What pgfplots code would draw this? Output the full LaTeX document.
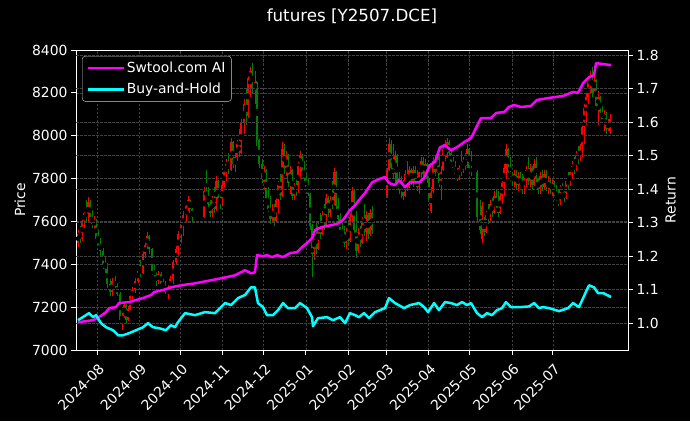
\documentclass[border=0pt]{standalone}
\usepackage{fontspec}
\setmainfont{DejaVu Sans}
\usepackage{pgfplots}
\usepackage{pgfplotstable}
\pgfplotsset{compat=1.18}

\definecolor{upred}{RGB}{255,0,0}
\definecolor{dngreen}{RGB}{0,128,0}
\definecolor{gridc}{RGB}{64,64,64}
\definecolor{lnmag}{RGB}{255,0,255}
\definecolor{lncyan}{RGB}{0,255,255}

% x = days since 2024-08-01
% candles: d open high low close
\pgfplotstableread{
d o h l c
-13.9 7500 7560 7480 7540
-12.5 7540 7580 7500 7520
-11.0 7520 7620 7510 7600
-9.5 7600 7660 7570 7640
-8.1 7640 7700 7600 7620
-6.6 7620 7715 7600 7690
-5.1 7690 7700 7600 7620
-3.7 7620 7655 7570 7590
-2.2 7590 7625 7555 7600
-0.7 7600 7610 7500 7520
0.7 7520 7565 7480 7495
2.2 7495 7525 7440 7460
4.4 7460 7475 7380 7400
5.9 7400 7435 7360 7380
7.3 7380 7405 7290 7310
9.5 7310 7330 7250 7270
11.0 7270 7335 7250 7320
13.2 7320 7345 7280 7300
14.6 7300 7315 7250 7260
16.8 7260 7270 7120 7140
18.3 7140 7175 7095 7160
19.8 7160 7225 7150 7210
21.2 7210 7215 7120 7140
22.7 7140 7205 7135 7190
24.2 7190 7265 7185 7250
25.6 7250 7295 7230 7280
27.8 7280 7335 7265 7320
30.0 7320 7385 7315 7370
31.5 7370 7420 7340 7360
33.7 7360 7465 7355 7450
35.2 7450 7505 7430 7490
36.6 7490 7550 7470 7530
38.0 7530 7535 7450 7470
40.3 7470 7475 7350 7370
41.8 7370 7395 7330 7350
43.2 7350 7365 7300 7320
44.7 7320 7370 7310 7355
46.9 7355 7365 7300 7310
48.3 7310 7335 7280 7300
49.8 7300 7320 7260 7270
52.0 7270 7305 7240 7290
53.5 7290 7345 7280 7330
55.7 7330 7420 7310 7410
57.9 7410 7485 7400 7470
59.3 7470 7555 7440 7540
61.5 7540 7600 7500 7580
63.0 7580 7650 7530 7630
65.2 7630 7685 7600 7670
66.6 7670 7720 7650 7700
68.0 7700 7705 7640 7660
69.6 7660 7665 7600 7620
78.4 7620 7760 7615 7740
79.8 7740 7840 7700 7720
81.3 7720 7760 7660 7680
82.8 7680 7700 7620 7640
84.2 7640 7720 7620 7700
85.7 7700 7760 7640 7660
87.2 7660 7810 7650 7790
88.6 7790 7795 7680 7700
90.0 7700 7740 7660 7680
91.6 7680 7790 7675 7770
93.0 7770 7850 7760 7830
94.5 7830 7890 7790 7870
96.0 7870 7920 7820 7840
98.2 7840 7990 7835 7970
99.6 7970 7975 7850 7870
101.0 7870 7920 7830 7900
102.5 7900 7980 7880 7960
104.0 7960 8030 7900 7920
105.5 7920 8080 7915 8060
107.7 8060 8170 8010 8150
109.2 8150 8220 8050 8090
110.6 8090 8290 8085 8270
112.0 8270 8320 8180 8300
113.5 8300 8340 8200 8220
115.7 8220 8300 8150 8250
117.0 8250 8255 7950 7980
118.7 7980 7985 7850 7870
120.9 7870 7890 7780 7800
122.3 7800 7860 7750 7840
123.8 7840 7845 7690 7710
125.2 7710 7760 7640 7660
126.7 7660 7720 7590 7610
128.2 7610 7680 7600 7660
129.7 7660 7680 7580 7600
131.1 7600 7720 7595 7700
132.6 7700 7790 7640 7770
134.0 7770 7850 7700 7720
135.5 7720 7970 7715 7940
137.0 7940 7960 7820 7850
138.5 7850 7930 7810 7910
139.9 7910 7915 7760 7780
141.4 7780 7860 7730 7840
142.8 7840 7845 7700 7720
144.3 7720 7780 7700 7760
145.8 7760 7800 7720 7740
147.3 7740 7880 7735 7860
148.7 7860 7930 7800 7910
150.2 7910 7915 7810 7830
151.6 7830 7880 7780 7800
153.1 7800 7820 7740 7760
154.6 7760 7800 7720 7730
156.0 7730 7735 7560 7580
157.5 7580 7590 7340 7450
159.0 7450 7560 7420 7540
160.4 7540 7600 7450 7470
161.9 7470 7600 7465 7580
163.4 7580 7640 7520 7540
164.8 7540 7650 7535 7630
166.3 7630 7680 7560 7580
167.7 7580 7730 7575 7710
169.2 7710 7720 7620 7640
170.7 7640 7730 7620 7700
172.2 7700 7790 7660 7680
173.6 7680 7850 7675 7830
175.1 7830 7835 7650 7670
176.5 7670 7710 7590 7610
178.0 7610 7640 7540 7560
179.5 7560 7600 7510 7530
181.0 7530 7580 7480 7500
182.4 7500 7570 7470 7550
183.9 7550 7600 7490 7510
185.3 7510 7640 7505 7620
186.8 7620 7760 7600 7740
188.2 7740 7745 7530 7560
189.7 7560 7650 7430 7460
191.2 7460 7570 7455 7550
192.7 7550 7580 7480 7500
194.1 7500 7620 7495 7600
195.6 7600 7680 7530 7550
197.0 7550 7650 7510 7630
198.5 7630 7640 7520 7540
200.0 7540 7660 7530 7640
201.5 7640 7670 7540 7560
212.5 7720 7850 7710 7840
213.9 7840 7990 7835 7960
215.4 7960 7980 7830 7850
216.8 7850 7960 7800 7820
218.3 7820 7930 7780 7910
219.8 7910 7915 7760 7780
221.2 7780 7830 7730 7750
222.7 7750 7810 7710 7790
224.2 7790 7795 7700 7720
225.6 7720 7840 7715 7820
227.1 7820 7880 7740 7760
228.6 7760 7860 7755 7840
230.0 7840 7850 7770 7790
231.5 7790 7860 7760 7840
233.0 7840 7860 7770 7790
234.4 7790 7840 7740 7760
235.9 7760 7850 7730 7830
237.4 7830 7900 7780 7880
238.8 7880 7900 7800 7820
240.3 7820 7890 7810 7870
241.8 7870 7875 7780 7800
243.2 7800 7805 7680 7700
244.7 7650 7760 7640 7740
246.2 7740 7900 7735 7880
247.6 7880 7910 7810 7830
249.1 7830 7930 7825 7910
250.5 7910 7915 7760 7780
252.0 7780 7860 7700 7840
253.5 7840 7960 7835 7940
254.9 7940 7980 7880 7900
256.4 7900 7990 7895 7970
257.9 7970 7980 7900 7920
259.3 7920 7930 7870 7880
260.8 7880 7900 7840 7850
262.3 7850 7880 7810 7820
263.7 7820 7850 7790 7800
265.2 7800 7870 7795 7850
266.7 7850 7930 7810 7830
268.1 7830 7900 7825 7880
269.6 7880 7920 7840 7860
271.0 7860 7960 7850 7940
272.5 7940 7945 7830 7850
274.0 7850 7930 7810 7830
278.5 7830 7840 7600 7620
280.6 7620 7700 7540 7560
282.1 7520 7690 7500 7670
283.5 7600 7620 7530 7550
285.0 7550 7650 7545 7630
286.4 7630 7680 7590 7610
287.9 7610 7700 7600 7680
289.4 7680 7710 7620 7640
290.8 7640 7740 7635 7720
292.3 7720 7750 7650 7670
293.8 7670 7740 7620 7640
295.2 7640 7740 7635 7720
296.7 7720 7800 7680 7780
298.2 7780 7870 7720 7850
299.6 7850 7960 7800 7940
301.1 7940 7945 7810 7830
302.6 7830 7900 7790 7810
304.0 7810 7830 7770 7790
305.5 7790 7840 7760 7820
307.0 7820 7840 7750 7770
308.4 7770 7830 7740 7810
309.9 7810 7830 7750 7770
311.4 7770 7820 7730 7750
312.8 7750 7830 7730 7810
314.3 7810 7860 7760 7840
315.8 7840 7900 7770 7790
317.2 7790 7870 7760 7850
318.7 7850 7860 7750 7770
320.2 7770 7890 7765 7870
321.6 7870 7900 7780 7800
323.1 7800 7805 7730 7750
324.5 7750 7830 7730 7810
326.0 7810 7840 7740 7760
327.5 7760 7840 7750 7820
328.9 7820 7840 7740 7760
330.4 7760 7810 7730 7790
331.9 7790 7800 7730 7750
333.3 7750 7800 7720 7780
334.8 7780 7790 7700 7720
336.3 7720 7770 7690 7700
337.7 7700 7750 7670 7680
339.2 7680 7770 7675 7750
340.7 7750 7780 7730 7740
342.1 7740 7750 7690 7710
343.6 7710 7800 7705 7790
345.1 7790 7830 7750 7770
346.5 7770 7850 7765 7830
348.0 7830 7880 7800 7860
349.5 7860 7900 7820 7840
350.9 7840 7930 7835 7910
352.4 7910 7950 7870 7890
353.8 7890 7960 7880 7950
355.3 7950 8060 7900 8040
356.8 8040 8150 7960 8130
358.2 8130 8200 8050 8180
359.7 8180 8270 8150 8250
361.2 8250 8300 8200 8280
362.6 8280 8320 8180 8200
364.1 8200 8290 8195 8260
365.6 8260 8265 8120 8140
367.0 8140 8210 8050 8180
368.5 8180 8185 8090 8110
370.0 8110 8140 8060 8080
371.4 8080 8120 8020 8100
372.9 8100 8110 8010 8030
374.4 8030 8080 8020 8060
375.8 8020 8100 8010 8080
}\candles

\pgfplotstableread{
d r
-13.9 1.003
-2.9 1.009
1.5 1.018
6.6 1.033
8.8 1.045
13.9 1.048
16.1 1.060
23.4 1.063
33.7 1.075
39.6 1.084
41.8 1.093
48.4 1.099
54.2 1.107
61.5 1.113
71.8 1.119
83.5 1.128
94.5 1.137
101.1 1.143
108.4 1.158
112.8 1.149
115.7 1.152
117.2 1.203
121.6 1.200
124.5 1.203
128.2 1.197
131.9 1.203
136.3 1.197
141.4 1.209
146.5 1.212
150.2 1.227
153.8 1.239
157.5 1.254
159.7 1.278
164.8 1.287
168.5 1.290
175.8 1.296
180.2 1.308
185.3 1.337
189.0 1.352
191.9 1.367
196.3 1.388
201.5 1.420
206.6 1.430
211.0 1.436
213.9 1.418
218.3 1.412
221.2 1.427
225.6 1.406
229.3 1.420
235.9 1.420
239.6 1.433
244.0 1.472
247.6 1.481
251.3 1.525
254.9 1.531
259.3 1.516
263.7 1.525
268.9 1.540
274.0 1.552
277.6 1.582
281.3 1.612
288.6 1.612
292.3 1.627
298.2 1.630
301.8 1.645
305.5 1.651
310.6 1.645
317.9 1.648
322.3 1.666
331.1 1.672
341.4 1.678
348.7 1.690
352.4 1.687
356.0 1.716
360.4 1.734
364.1 1.740
365.6 1.776
370.7 1.773
376.6 1.770
}\stratret

\pgfplotstableread{
d r
-13.9 1.009
-8.1 1.024
-5.9 1.030
-2.9 1.018
-0.7 1.024
2.9 1.000
6.6 0.988
11.7 0.979
15.4 0.964
19.0 0.964
23.4 0.970
28.6 0.979
33.7 0.988
37.4 1.000
41.0 0.988
45.4 0.985
50.5 0.979
54.2 0.994
57.1 0.988
59.3 1.003
64.5 1.030
71.8 1.024
79.1 1.033
86.4 1.030
93.8 1.060
98.2 1.054
103.3 1.075
108.4 1.084
112.8 1.107
115.7 1.107
117.9 1.060
121.6 1.048
124.5 1.024
128.9 1.024
132.6 1.039
136.3 1.060
139.9 1.045
145.1 1.045
148.7 1.060
153.8 1.045
157.5 1.018
158.2 0.991
161.9 1.015
168.5 1.018
172.9 1.009
178.0 1.018
181.7 1.000
185.3 1.030
189.0 1.024
191.9 1.018
195.6 1.030
199.3 1.015
203.7 1.033
211.0 1.045
213.9 1.075
218.3 1.060
224.9 1.045
229.3 1.054
235.9 1.060
239.6 1.048
242.5 1.033
246.9 1.060
250.5 1.039
254.9 1.063
259.3 1.060
263.7 1.054
267.4 1.063
271.1 1.054
274.0 1.060
278.4 1.030
282.1 1.018
285.7 1.030
289.4 1.024
293.0 1.039
296.7 1.045
299.6 1.063
303.3 1.048
310.6 1.048
316.5 1.050
320.2 1.060
323.8 1.045
326.7 1.048
331.1 1.045
338.4 1.036
345.1 1.045
348.7 1.060
353.1 1.048
360.4 1.113
364.1 1.107
367.0 1.090
370.7 1.090
376.6 1.078
}\holdret

\pgfplotsset{
  darkax/.style={
    scale only axis, width=552pt, height=300pt,
    at={(0pt,0pt)}, anchor=south west,
    xmin=-15.4, xmax=389,
    axis line style={white, line width=0.9pt},
    tick style={white, line width=0.9pt},
    major tick length=5pt,
    tick align=outside,
    ticklabel style={white, font=\fontsize{13.9}{16}\selectfont},
    label style={white, font=\fontsize{13.9}{16}\selectfont},
    grid style={gridc, dash pattern=on 2.5pt off 1.5pt, line width=0.5pt},
    /pgf/number format/assume math mode=true,
  },
  candlebar/.style={only marks, mark=none, forget plot,
    error bars/y dir=both, error bars/y explicit, error bars/error mark=none,
    error bars/error bar style={#1}},
}

\begin{document}
\begin{tikzpicture}
\fill[black] (-76pt,-71pt) rectangle (614pt,350pt);

\begin{axis}[darkax,
  ymin=7000, ymax=8400,
  ytick={7000,7200,7400,7600,7800,8000,8200,8400},
  /pgf/number format/1000 sep={},
  xtick={0,31,61,92,122,153,184,212,243,273,304,334},
  xticklabels={2024-08,2024-09,2024-10,2024-11,2024-12,2025-01,2025-02,2025-03,2025-04,2025-05,2025-06,2025-07},
  xticklabel style={rotate=45, anchor=north east, inner sep=1pt, xshift=-4pt, yshift=-5pt},
  xtick pos=bottom, ytick pos=left,
  xmajorgrids, ymajorgrids,
  ylabel={Price},
]
% wicks
\addplot[restrict expr to domain={\thisrow{c}-\thisrow{o}}{0:100000},
  candlebar={upred, line width=0.7pt}]
  table[x=d, y expr={(\thisrow{h}+\thisrow{l})/2}, y error expr={(\thisrow{h}-\thisrow{l})/2}] {\candles};
\addplot[restrict expr to domain={\thisrow{c}-\thisrow{o}}{-100000:0},
  candlebar={dngreen, line width=0.7pt}]
  table[x=d, y expr={(\thisrow{h}+\thisrow{l})/2}, y error expr={(\thisrow{h}-\thisrow{l})/2}] {\candles};
% bodies
\addplot[restrict expr to domain={\thisrow{c}-\thisrow{o}}{0:100000},
  candlebar={upred, line width=1.6pt}]
  table[x=d, y expr={(\thisrow{o}+\thisrow{c})/2}, y error expr={abs(\thisrow{c}-\thisrow{o})/2}] {\candles};
\addplot[restrict expr to domain={\thisrow{c}-\thisrow{o}}{-100000:0},
  candlebar={dngreen, line width=1.6pt}]
  table[x=d, y expr={(\thisrow{o}+\thisrow{c})/2}, y error expr={abs(\thisrow{c}-\thisrow{o})/2}] {\candles};
\end{axis}

\begin{axis}[darkax,
  ymin=0.92, ymax=1.815,
  ytick={1.0,1.1,1.2,1.3,1.4,1.5,1.6,1.7,1.8},
  yticklabel style={/pgf/number format/.cd, fixed, fixed zerofill, precision=1},
  axis x line=none, axis y line*=right,
  ymajorgrids,
  ylabel={Return},
  legend cell align=left,
  legend image code/.code={\draw[#1] (0pt,0pt) -- (31pt,0pt); \path (0pt,0pt) -- (36pt,0pt);},
  legend style={at={(0.011,0.98)}, anchor=north west, fill=black,
    draw=white!80!black, text=white, rounded corners=3pt,
    font=\fontsize{13.9}{16}\selectfont, inner xsep=4pt, inner ysep=4pt,
    row sep=5pt},
]
\addplot[lnmag, line width=2.5pt, line join=round] table[x=d, y=r] {\stratret};
\addlegendentry{Swtool.com AI}
\addplot[lncyan, line width=2.5pt, line join=round] table[x=d, y=r] {\holdret};
\addlegendentry{Buy-and-Hold}
\end{axis}

\node[white, font=\fontsize{16.7}{20}\selectfont] at (276pt,334pt) {futures [Y2507.DCE]};
\pgfresetboundingbox
\path[use as bounding box] (-76pt,-71pt) rectangle (614pt,350pt);
\end{tikzpicture}
\end{document}
